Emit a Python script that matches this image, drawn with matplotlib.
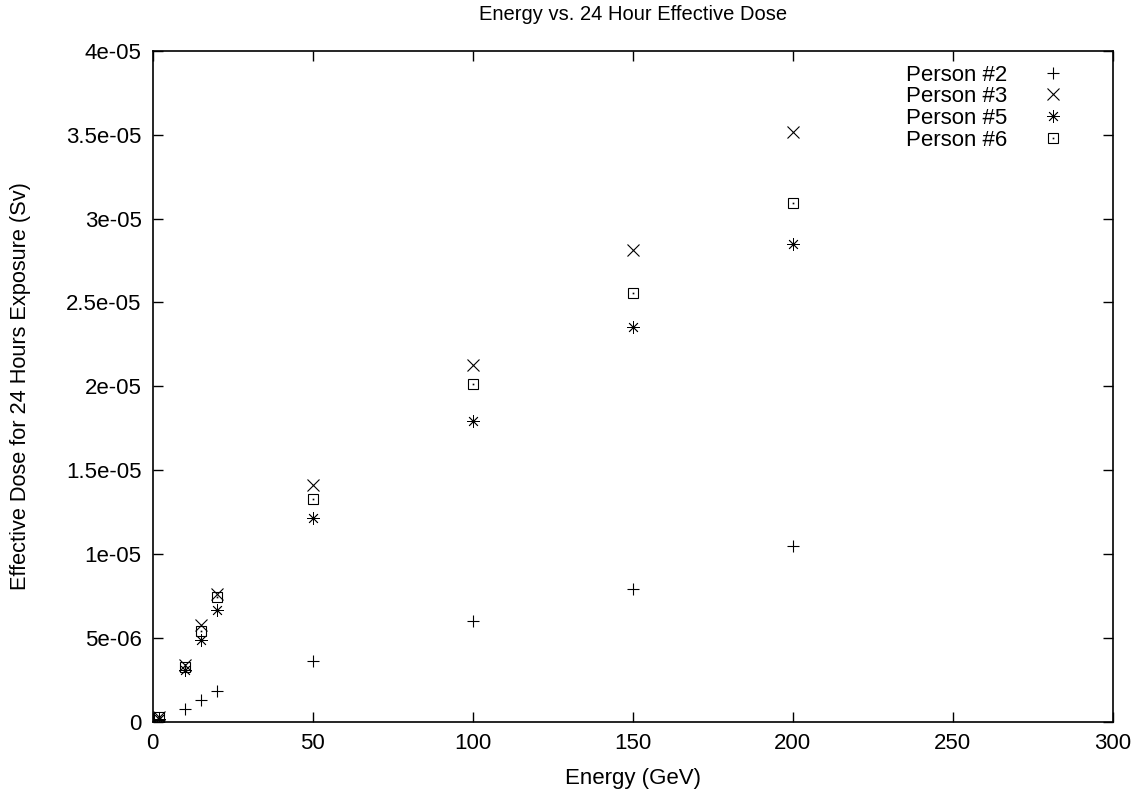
import matplotlib
matplotlib.use("Agg")
import matplotlib.pyplot as plt
from matplotlib.legend_handler import HandlerTuple

plt.rcParams['font.family'] = ['Liberation Sans', 'DejaVu Sans']

energy = [2, 10, 15, 20, 50, 100, 150, 200]
person2 = [1e-7, 7.6e-7, 1.3e-6, 1.85e-6, 3.64e-6, 6.02e-6, 7.95e-6, 1.049e-5]
person3 = [3e-7, 3.4e-6, 5.8e-6, 7.6e-6, 1.413e-5, 2.128e-5, 2.814e-5, 3.513e-5]
person5 = [2e-7, 3.1e-6, 4.89e-6, 6.68e-6, 1.214e-5, 1.794e-5, 2.353e-5, 2.849e-5]
person6 = [3e-7, 3.3e-6, 5.44e-6, 7.43e-6, 1.328e-5, 2.013e-5, 2.556e-5, 3.092e-5]
labels = ["Person #2", "Person #3", "Person #5", "Person #6"]

xticks = [0, 50, 100, 150, 200, 250, 300]
yticks = [0, 5e-6, 1e-5, 1.5e-5, 2e-5, 2.5e-5, 3e-5, 3.5e-5, 4e-5]
ytick_labels = ["0", "5e-06", "1e-05", "1.5e-05", "2e-05", "2.5e-05", "3e-05", "3.5e-05", "4e-05"]

fig = plt.figure(figsize=(11.37, 7.93), dpi=100)
ax = fig.add_axes([0.1343, 0.0895, 0.8443, 0.8465])

h2, = ax.plot(energy, person2, linestyle='none', marker='+', markersize=9,
              markeredgewidth=0.8, color='black')
h3, = ax.plot(energy, person3, linestyle='none', marker='x', markersize=8,
              markeredgewidth=0.8, color='black')
h5, = ax.plot(energy, person5, linestyle='none', marker=(8, 2, 0), markersize=9,
              markeredgewidth=0.6, color='black')
h6a, = ax.plot(energy, person6, linestyle='none', marker='s', markersize=7.5,
               markeredgewidth=0.8, markerfacecolor='none', markeredgecolor='black')
h6b, = ax.plot(energy, person6, linestyle='none', marker='s', markersize=1.2,
               markeredgewidth=0, color='black')

ax.set_xlim(0, 300)
ax.set_ylim(0, 4e-5)
ax.set_xticks(xticks)
ax.set_xticklabels([str(v) for v in xticks])
ax.set_yticks(yticks)
ax.set_yticklabels(ytick_labels)
ax.tick_params(direction='in', length=7, width=1, top=True, right=True,
               labelsize=16, colors='black')
ax.tick_params(axis='x', pad=8)
ax.tick_params(axis='y', pad=8)
for s in ax.spines.values():
    s.set_linewidth(1.2)

ax.set_title("Energy vs. 24 Hour Effective Dose", fontsize=14.5, pad=22)
ax.set_xlabel("Energy (GeV)", fontsize=16)
ax.set_ylabel("Effective Dose for 24 Hours Exposure (Sv)", fontsize=15.7)
ax.xaxis.set_label_coords(0.5, -0.069)
ax.yaxis.set_label_coords(-0.127, 0.5)

leg = ax.legend([h2, h3, h5, (h6a, h6b)], labels,
                handler_map={tuple: HandlerTuple(ndivide=1)},
                loc='upper right', bbox_to_anchor=(0.9668, 0.996),
                frameon=False, markerfirst=False, fontsize=16,
                handlelength=1.5, handletextpad=1.3, labelspacing=0.03,
                borderpad=0.0)

fig.savefig("out.png", dpi=100)
